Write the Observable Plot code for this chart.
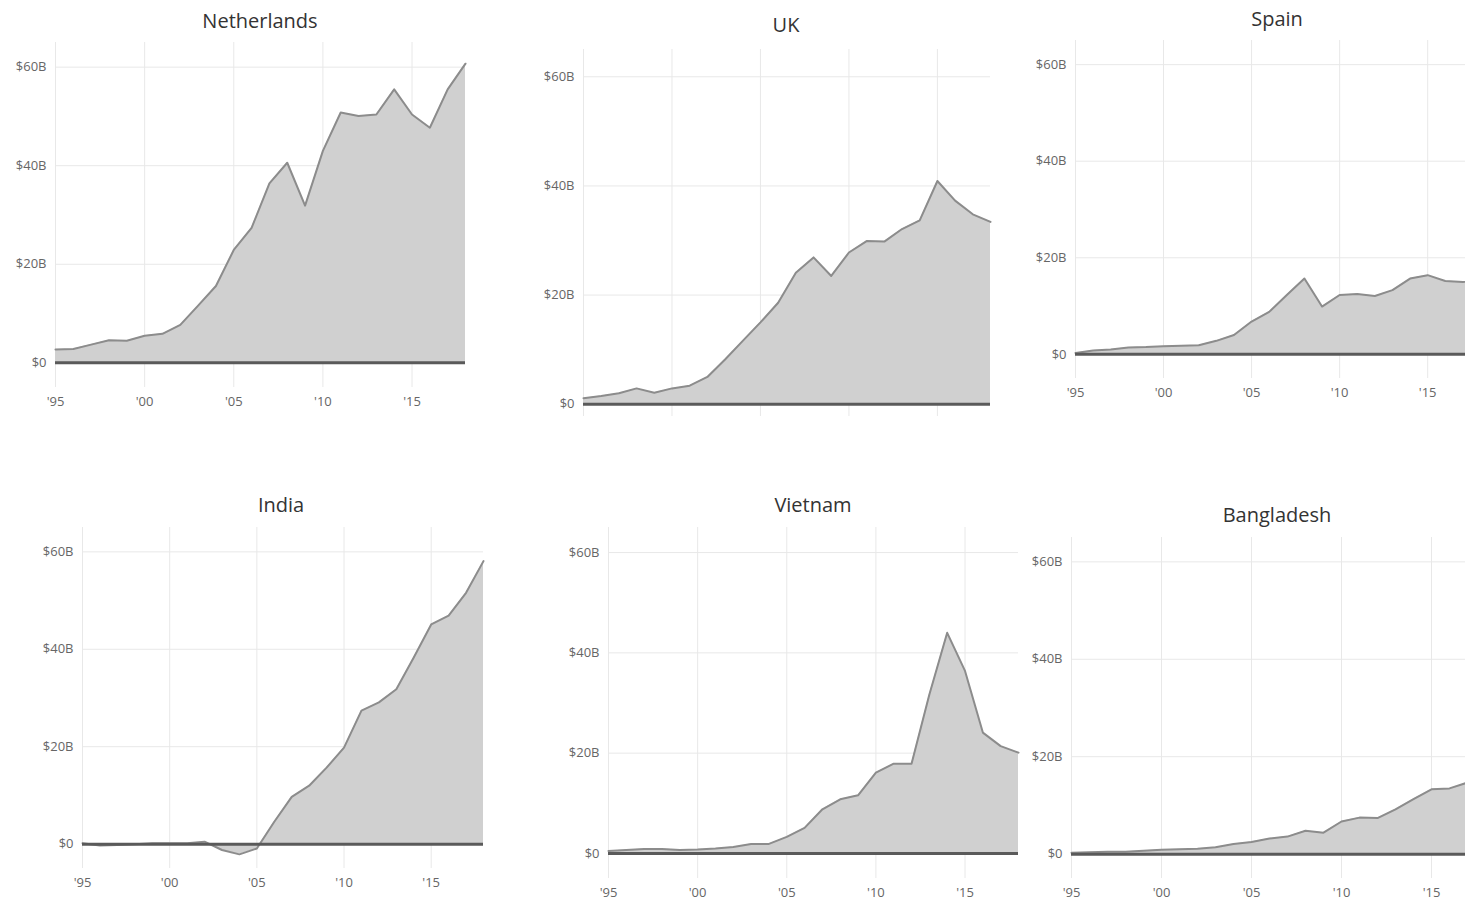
<!DOCTYPE html>
<html>
<head>
<meta charset="utf-8">
<script src="https://cdn.jsdelivr.net/npm/d3@7"></script>
<script src="https://cdn.jsdelivr.net/npm/@observablehq/plot@0.6"></script>
<style>
  html, body { margin: 0; padding: 0; background: #fff; }
  body { width: 1465px; height: 899px; overflow: hidden; position: relative; font-family: "Open Sans", sans-serif; }
  .panel { position: absolute; }
  .panel svg { max-width: none !important; display: block; }
  .title { position: absolute; transform: translate(-50%, -50%); font-size: 20px; color: #333; white-space: nowrap; }
</style>
</head>
<body>
<script>
// ---- data (values in billions of USD) ----
const years = d3.range(1995, 2019);
const countries = ["Netherlands", "UK", "Spain", "India", "Vietnam", "Bangladesh"];
const netherlands = [2.7, 2.8, 3.7, 4.6, 4.5, 5.5, 5.9, 7.7, 11.6, 15.6, 22.9, 27.4, 36.4, 40.6, 31.9, 43.0, 50.8, 50.1, 50.4, 55.5, 50.4, 47.7, 55.5, 60.7];
const uk          = [1.1, 1.5, 2.0, 2.9, 2.1, 2.9, 3.4, 5.0, 8.2, 11.6, 15.0, 18.6, 24.1, 26.9, 23.5, 27.8, 29.9, 29.8, 32.1, 33.7, 40.9, 37.3, 34.8, 33.4];
const spain       = [0.3, 0.8, 1.0, 1.4, 1.5, 1.7, 1.8, 1.9, 2.8, 4.0, 6.8, 8.8, 12.3, 15.7, 9.9, 12.3, 12.5, 12.1, 13.3, 15.7, 16.4, 15.2, 15.0, 15.5];
const india       = [0.2, -0.3, -0.2, 0.0, 0.2, 0.2, 0.2, 0.5, -1.2, -2.1, -0.9, 4.6, 9.7, 12.0, 15.7, 19.8, 27.4, 29.1, 31.8, 38.3, 45.1, 46.9, 51.6, 58.1];
const vietnam     = [0.5, 0.7, 0.9, 0.9, 0.7, 0.8, 1.0, 1.3, 1.9, 1.9, 3.3, 5.1, 8.8, 10.8, 11.6, 16.1, 17.9, 17.9, 31.7, 44.0, 36.4, 24.1, 21.4, 20.1];
const bangladesh  = [0.3, 0.4, 0.5, 0.5, 0.7, 0.9, 1.0, 1.1, 1.4, 2.1, 2.5, 3.2, 3.6, 4.8, 4.4, 6.7, 7.5, 7.4, 9.2, 11.3, 13.3, 13.5, 14.7, 15.8];
const seriesValues = [netherlands, uk, spain, india, vietnam, bangladesh];
const xTicks = [1995, 2000, 2005, 2010, 2015];
const yTicks = [0, 20, 40, 60];

// ---- layout (pixel placement of each panel on the page) ----
const layout = [
  {x0: 55,    x1: 464.5,  y0: 363,   y60: 67,    tx: 260,  ty: 20,  xLabels: true,  clipAt: null},
  {x0: 583,   x1: 990,    y0: 403,   y60: 76,    tx: 786,  ty: 24,  xLabels: false, clipAt: 416},
  {x0: 1075,  x1: 1480,   y0: 354.3, y60: 64.3,  tx: 1277, ty: 18,  xLabels: true,  clipAt: null},
  {x0: 81.7,  x1: 483,    y0: 843.3, y60: 551,   tx: 281,  ty: 504, xLabels: true,  clipAt: null},
  {x0: 608.3, x1: 1018.5, y0: 852.3, y60: 551.7, tx: 813,  ty: 504, xLabels: true,  clipAt: null},
  {x0: 1070.7,x1: 1484.7, y0: 853.3, y60: 561,   tx: 1277, ty: 514, xLabels: true,  clipAt: null}
];

const yMin = -5, yMax = 65;
const mL = 60, mR = 10, mT = 4, mB = 40;

countries.forEach((name, i) => {
  const L = layout[i];
  const data = years.map((yr, j) => ({year: yr, value: seriesValues[i][j]}));
  const perUnit = (L.y0 - L.y60) / 60;
  const frameTop = L.y60 - (yMax - 60) * perUnit;
  const frameBottom = L.y0 + (0 - yMin) * perUnit;
  const width = Math.round((L.x1 - L.x0) + mL + mR);
  const height = Math.round((frameBottom - frameTop) + mT + mB);

  const chart = Plot.plot({
    width, height,
    marginLeft: mL, marginRight: mR, marginTop: mT, marginBottom: mB,
    style: {fontFamily: "'Open Sans', sans-serif", fontSize: "13px", color: "#666", background: "transparent", overflow: "visible"},
    x: {domain: [1995, 2018], axis: null, label: null},
    y: {domain: [yMin, yMax], axis: null, label: null},
    marks: [
      Plot.gridX(xTicks, {stroke: "#e8e8e8", strokeOpacity: 1, strokeWidth: 1}),
      Plot.gridY(yTicks, {stroke: "#e8e8e8", strokeOpacity: 1, strokeWidth: 1}),
      Plot.areaY(data, {x: "year", y1: 0, y2: "value", fill: "#d0d0d0"}),
      Plot.lineY(data, {x: "year", y: "value", stroke: "#8c8c8c", strokeWidth: 2}),
      Plot.ruleY([0], {stroke: "#5a5a5a", strokeWidth: 3}),
      Plot.axisY(yTicks, {label: null, tickSize: 0, tickPadding: 9, tickFormat: d => d === 0 ? "$0" : `$${d}B`, fill: "#666", fontSize: 13}),
      ...(L.xLabels ? [Plot.axisX(xTicks, {label: null, tickSize: 0, tickPadding: 9, tickFormat: d => "'" + String(d).slice(2), fill: "#666", fontSize: 13})] : [])
    ]
  });

  const top = frameTop - mT;
  const div = document.createElement("div");
  div.className = "panel";
  div.style.left = (L.x0 - mL) + "px";
  div.style.top = top + "px";
  div.style.width = width + "px";
  div.style.height = (L.clipAt ? (L.clipAt - top) : height) + "px";
  if (L.clipAt) div.style.overflow = "hidden";
  div.appendChild(chart);
  document.body.appendChild(div);

  const t = document.createElement("div");
  t.className = "title";
  t.style.left = L.tx + "px";
  t.style.top = L.ty + "px";
  t.textContent = name;
  document.body.appendChild(t);
});
</script>
</body>
</html>
